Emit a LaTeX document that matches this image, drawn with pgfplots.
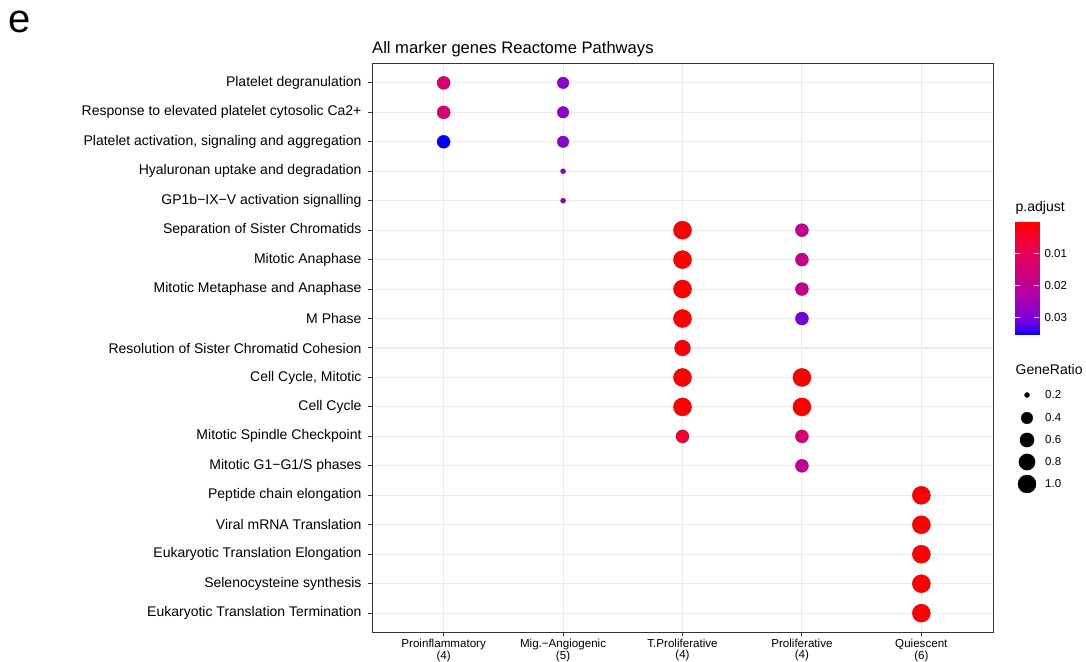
\documentclass[border=0pt]{standalone}
\usepackage{fontspec}
\setmainfont{Liberation Sans}
\usepackage{pgfplots}
\pgfplotsset{compat=1.18}
\usepackage{pgfplotstable}

\pgfplotstableread{
x y r p
1 19 0.5 0.0144
2 19 0.4 0.0285
1 18 0.5 0.0144
2 18 0.4 0.0285
1 17 0.5 0.0356
2 17 0.4 0.0285
2 16 0.2 0.0285
2 15 0.2 0.0285
3 14 1.0 0.0003
4 14 0.5 0.0187
3 13 1.0 0.0003
4 13 0.5 0.0187
3 12 1.0 0.0003
4 12 0.5 0.0187
3 11 1.0 0.0003
4 11 0.5 0.0310
3 10 0.75 0.0008
3 9 1.0 0.0003
4 9 1.0 0.0003
3 8 1.0 0.0003
4 8 1.0 0.0003
3 7 0.5 0.0056
4 7 0.5 0.0144
4 6 0.5 0.0197
5 5 1.0 0.0003
5 4 1.0 0.0003
5 3 1.0 0.0003
5 2 1.0 0.0003
5 1 1.0 0.0003
}\dottable

\pgfplotstableread{
x y r
12 105 0.2
12 82 0.4
12 60 0.6
12 38 0.8
12 16 1.0
}\sizetable

% colour bar in units of 1e-3
\pgfplotstableread{
x y p
0 -0.3 0.3
1 -0.3 0.3
0 -35.6 35.6
1 -35.6 35.6
}\bartable

\definecolor{gridc}{HTML}{EBEBEB}
\definecolor{framec}{HTML}{333333}

\pgfplotsset{colormap={ggrb}{rgb255(0cm)=(255,0,0) rgb255(2cm)=(237,0,68) rgb255(4cm)=(215,0,114) rgb255(6cm)=(186,0,159) rgb255(8cm)=(141,0,206) rgb255(9cm)=(104,0,230) rgb255(10cm)=(0,0,255)}}

\begin{document}
\begin{tikzpicture}
\path[use as bounding box] (0,0) rectangle (1086pt,661pt);
\node[anchor=base west, font=\fontsize{40}{44}\selectfont, inner sep=0pt] at (8pt,628pt) {e};
\node[anchor=base west, font=\fontsize{16.6}{18}\selectfont, inner sep=0pt] at (372pt,607pt) {All marker genes Reactome Pathways};

\begin{axis}[
  at={(372pt,29pt)}, anchor=south west,
  scale only axis, width=621pt, height=568pt,
  xmin=0.4, xmax=5.6, ymin=0.36, ymax=19.64,
  xtick={1,2,3,4,5},
  xticklabels={{Proinflammatory\\(4)},{Mig.−Angiogenic\\(5)},{T.Proliferative\\(4)},{Proliferative\\(4)},{Quiescent\\(6)}},
  xticklabel style={align=center, font=\fontsize{11.6}{10.5}\selectfont, text=black},
  ytick={1,...,19},
  yticklabels={Eukaryotic Translation Termination,Selenocysteine synthesis,Eukaryotic Translation Elongation,Viral mRNA Translation,Peptide chain elongation,Mitotic G1−G1/S phases,Mitotic Spindle Checkpoint,Cell Cycle,{Cell Cycle, Mitotic},Resolution of Sister Chromatid Cohesion,M Phase,Mitotic Metaphase and Anaphase,Mitotic Anaphase,Separation of Sister Chromatids,GP1b−IX−V activation signalling,Hyaluronan uptake and degradation,{Platelet activation, signaling and aggregation},Response to elevated platelet cytosolic Ca2+,Platelet degranulation},
  yticklabel style={font=\fontsize{14}{16}\selectfont, text=black, xshift=-3pt},
  tick align=outside, tick pos=left, major tick length=4pt,
  tick style={framec, line width=1pt},
  axis line style={framec, line width=1pt},
  grid=major, major grid style={gridc, line width=1.1pt},
  colormap name=ggrb,
  point meta min=0.3, point meta max=35.6,
]
\addplot[scatter, only marks, mark=*, point meta=explicit,
  visualization depends on={\thisrow{r} \as \ratio},
  scatter/@pre marker code/.append style={/tikz/mark size={2.5+6.5*sqrt((\ratio-0.2)/0.8)}},
] table[x=x, y=y, meta expr=\thisrow{p}*1000] {\dottable};
\end{axis}

\node[anchor=base west, font=\fontsize{14}{16}\selectfont, inner sep=0pt] at (1015.5pt,449pt) {p.adjust};
\node[anchor=base west, font=\fontsize{14}{16}\selectfont, inner sep=0pt] at (1015.5pt,286pt) {GeneRatio};

\begin{axis}[
  at={(1015pt,326pt)}, anchor=south west,
  scale only axis, width=24pt, height=113pt,
  xmin=0, xmax=1, ymin=-35.6, ymax=-0.3,
  xtick=\empty,
  ytick={-10,-20,-30},
  yticklabels={0.01,0.02,0.03},
  ytick pos=both, yticklabel pos=right,
  tick align=inside, major tick length=5pt,
  ytick style={white, line width=0.8pt},
  yticklabel style={font=\fontsize{11.5}{13}\selectfont, text=black, xshift=2pt},
  axis line style={draw=none},
  axis on top,
  colormap name=ggrb,
  point meta min=0.3, point meta max=35.6,
]
\addplot[surf, shader=interp, mesh/cols=2, point meta=explicit] table[x=x, y=y, meta=p] {\bartable};
\end{axis}

\begin{axis}[
  at={(1015pt,161pt)}, anchor=south west,
  scale only axis, width=70pt, height=120pt,
  xmin=0, xmax=70, ymin=0, ymax=120,
  hide axis, clip=false,
]
\addplot[only marks, mark=*, black,
  visualization depends on={\thisrow{r} \as \ratio},
  scatter, scatter/use mapped color={draw=black, fill=black},
  scatter/@pre marker code/.append style={/tikz/mark size={2.5+6.5*sqrt((\ratio-0.2)/0.8)}},
] table[x=x, y=y, meta=r] {\sizetable};
\foreach \yy/\lab in {105/0.2, 82/0.4, 60/0.6, 38/0.8, 16/1.0} {
  \edef\tmp{\noexpand\node[anchor=west, inner sep=0pt, font=\noexpand\fontsize{11.5}{13}\noexpand\selectfont] at (axis cs:30,\yy) {\lab};}
  \tmp
}
\end{axis}
\end{tikzpicture}
\end{document}
